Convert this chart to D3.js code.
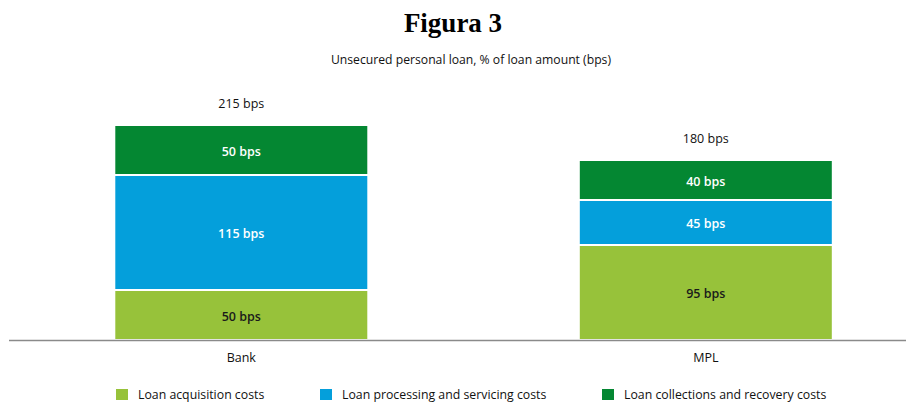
<!DOCTYPE html>
<html>
<head>
<meta charset="utf-8">
<script src="https://cdn.jsdelivr.net/npm/d3@7/dist/d3.min.js"></script>
<style>
  body { margin: 0; background: #fff; }
  svg { display: block; }
  text { font-family: "Open Sans", "DejaVu Sans", sans-serif; }
</style>
</head>
<body>
<script>
// chart data
const categories = ['Bank', 'MPL'];
const seriesNames = ['Loan acquisition costs', 'Loan processing and servicing costs', 'Loan collections and recovery costs'];
const acquisition = [50, 95];
const processing = [115, 45];
const collections = [50, 40];
const totals = [215, 180];
const colors = ['#97c23a', '#049fdb', '#048732'];

const width = 906, height = 403;

const svg = d3.select('body').append('svg')
    .attr('width', width)
    .attr('height', height);

svg.append('text')
    .attr('x', 453).attr('y', 32)
    .attr('text-anchor', 'middle')
    .style('font-family', '"Liberation Serif", "Times New Roman", serif')
    .style('font-weight', 'bold')
    .style('font-size', '27px')
    .text('Figura 3');

svg.append('text')
    .attr('x', 471).attr('y', 64)
    .attr('text-anchor', 'middle')
    .style('font-size', '12.2px')
    .attr('fill', '#111')
    .text('Unsecured personal loan, % of loan amount (bps)');

const x = d3.scaleBand()
    .domain(categories)
    .range([114.3, 832.8])
    .paddingInner(0.4532)
    .paddingOuter(0);

const y = d3.scaleLinear()
    .domain([0, 215])
    .range([340, 125]);

const table = categories.map((c, i) => ({
    cat: c,
    s0: acquisition[i],
    s1: processing[i],
    s2: collections[i],
    total: totals[i]
}));

const stacked = d3.stack().keys(['s0', 's1', 's2'])(table);

const layers = svg.append('g').selectAll('g')
    .data(stacked)
    .join('g')
    .attr('fill', (d, i) => colors[i]);

layers.selectAll('rect')
    .data(d => d)
    .join('rect')
    .attr('x', d => x(d.data.cat))
    .attr('y', d => y(d[1]))
    .attr('width', x.bandwidth())
    .attr('height', d => y(d[0]) - y(d[1]))
    .attr('stroke', '#fff')
    .attr('stroke-width', 2);

layers.selectAll('text')
    .data(d => d)
    .join('text')
    .attr('x', d => x(d.data.cat) + x.bandwidth() / 2)
    .attr('y', d => (y(d[0]) + y(d[1])) / 2 + 1.5)
    .attr('dy', '0.35em')
    .attr('text-anchor', 'middle')
    .attr('fill', (d, i, nodes) => nodes[0].parentNode.__data__.index === 0 ? '#1a1a1a' : '#fff')
    .style('font-size', '12.5px')
    .style('font-weight', 600)
    .text(d => (d[1] - d[0]) + ' bps');

// totals above bars
svg.append('g').selectAll('text')
    .data(table)
    .join('text')
    .attr('x', d => x(d.cat) + x.bandwidth() / 2)
    .attr('y', d => y(d.total) - 21)
    .attr('dy', '0.35em')
    .attr('text-anchor', 'middle')
    .attr('fill', '#111')
    .style('font-size', '12.5px')
    .text(d => d.total + ' bps');

// baseline
svg.append('line')
    .attr('x1', 9).attr('x2', width)
    .attr('y1', y(0) + 0.5).attr('y2', y(0) + 0.5)
    .attr('stroke', '#8a8a8a')
    .attr('stroke-width', 1.5);

// category labels
svg.append('g').selectAll('text')
    .data(categories)
    .join('text')
    .attr('x', d => x(d) + x.bandwidth() / 2)
    .attr('y', 358)
    .attr('dy', '0.35em')
    .attr('text-anchor', 'middle')
    .attr('fill', '#111')
    .style('font-size', '12.5px')
    .text(d => d);

// legend
const legendX = [116, 320, 602];
const legend = svg.append('g').selectAll('g')
    .data(seriesNames)
    .join('g')
    .attr('transform', (d, i) => `translate(${legendX[i]},389)`);

legend.append('rect')
    .attr('width', 12).attr('height', 11)
    .attr('fill', (d, i) => colors[i]);

legend.append('text')
    .attr('x', 22).attr('y', 5.5)
    .attr('dy', '0.35em')
    .attr('fill', '#111')
    .style('font-size', '12.3px')
    .text(d => d);
</script>
</body>
</html>
